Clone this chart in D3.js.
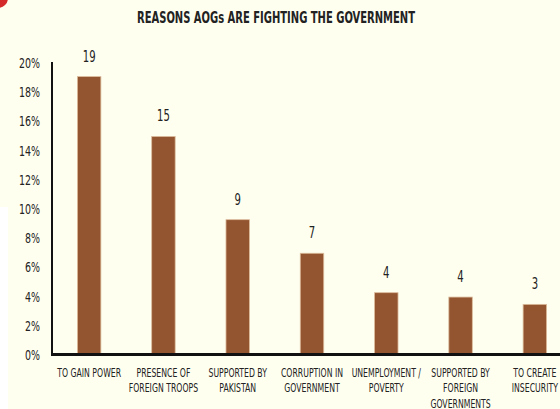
<!DOCTYPE html>
<html lang="en">
<head>
    <meta charset="UTF-8">
    <title>Reasons AOGs are fighting the government</title>
    <script src="https://cdn.jsdelivr.net/npm/d3@7"></script>
    <style>
        html, body { margin: 0; padding: 0; background: #fffff0; }
        svg { display: block; }
        text { font-family: "Liberation Sans Narrow", "DejaVu Sans Condensed", "Arial Narrow", sans-serif; fill: #222; }
    </style>
</head>
<body>
<svg id="chart" width="560" height="409"></svg>
<script>
    // data
    var categories = [
        ["TO GAIN POWER"],
        ["PRESENCE OF", "FOREIGN TROOPS"],
        ["SUPPORTED BY", "PAKISTAN"],
        ["CORRUPTION IN", "GOVERNMENT"],
        ["UNEMPLOYMENT /", "POVERTY"],
        ["SUPPORTED BY", "FOREIGN", "GOVERNMENTS"],
        ["TO CREATE", "INSECURITY"]
    ];
    var values = [19.0, 14.9, 9.2, 6.9, 4.2, 3.9, 3.4];
    var valueLabels = ["19", "15", "9", "7", "4", "4", "3"];
    var yTicks = [0, 2, 4, 6, 8, 10, 12, 14, 16, 18, 20];

    var svg = d3.select("#chart");
    var W = 560, H = 409;

    // background + the bits of page showing at the edge
    svg.append("rect").attr("width", W).attr("height", H).attr("fill", "#fffff0");
    svg.append("rect").attr("x", 0).attr("y", 207).attr("width", 8).attr("height", H - 207).attr("fill", "#ffffff");
    svg.append("circle").attr("cx", -2).attr("cy", -2).attr("r", 10).attr("fill", "#d42a2a");

    var x = d3.scaleBand()
        .domain(d3.range(categories.length))
        .range([52, 572])
        .paddingInner(0.684)
        .paddingOuter(0.342);

    var y = d3.scaleLinear()
        .domain([0, 20])
        .range([354, 62]);

    // title
    svg.append("text")
        .attr("x", 276)
        .attr("y", 23)
        .attr("text-anchor", "middle")
        .attr("textLength", 278)
        .attr("lengthAdjust", "spacingAndGlyphs")
        .style("font-size", "16px")
        .style("font-weight", "bold")
        .text("REASONS AOGs ARE FIGHTING THE GOVERNMENT");

    // y tick labels (squeezed sideways, the original font is very narrow)
    svg.append("g")
        .selectAll("g")
        .data(yTicks)
        .enter().append("g")
        .attr("transform", function(d) { return "translate(40," + (y(d) + 6) + ") scale(0.78,1)"; })
        .append("text")
        .attr("text-anchor", "end")
        .style("font-size", "13.5px")
        .text(function(d) { return d + "%"; });

    // bars
    svg.append("g")
        .selectAll("rect")
        .data(values)
        .enter().append("rect")
        .attr("x", function(d, i) { return x(i); })
        .attr("y", function(d) { return y(d); })
        .attr("width", x.bandwidth())
        .attr("height", function(d) { return y(0) - y(d); })
        .attr("fill", "#935530")
        .attr("stroke", "#dcbc9c")
        .attr("stroke-width", 0.8);

    // value labels on top
    svg.append("g")
        .selectAll("g")
        .data(values)
        .enter().append("g")
        .attr("transform", function(d, i) {
            return "translate(" + (x(i) + x.bandwidth() / 2) + "," + (y(d) - 15) + ") scale(0.7,1)";
        })
        .append("text")
        .attr("text-anchor", "middle")
        .style("font-size", "16px")
        .text(function(d, i) { return valueLabels[i]; });

    // axes lines
    svg.append("line")
        .attr("x1", 52).attr("x2", 52)
        .attr("y1", y(20)).attr("y2", y(0) + 1)
        .attr("stroke", "#111").attr("stroke-width", 2);
    svg.append("line")
        .attr("x1", 51).attr("x2", W)
        .attr("y1", y(0) + 0.5).attr("y2", y(0) + 0.5)
        .attr("stroke", "#111").attr("stroke-width", 3);

    // category labels, wrapped onto lines
    var cat = svg.append("g")
        .selectAll("g")
        .data(categories)
        .enter().append("g")
        .attr("transform", function(d, i) { return "translate(" + (x(i) + x.bandwidth() / 2) + ",0) scale(0.75,1)"; })
        .append("text")
        .attr("text-anchor", "middle")
        .style("font-size", "11.5px");

    cat.selectAll("tspan")
        .data(function(d) { return d; })
        .enter().append("tspan")
        .attr("x", 0)
        .attr("y", function(d, j) { return 377 + j * 15.5; })
        .text(function(d) { return d; });
</script>
</body>
</html>
